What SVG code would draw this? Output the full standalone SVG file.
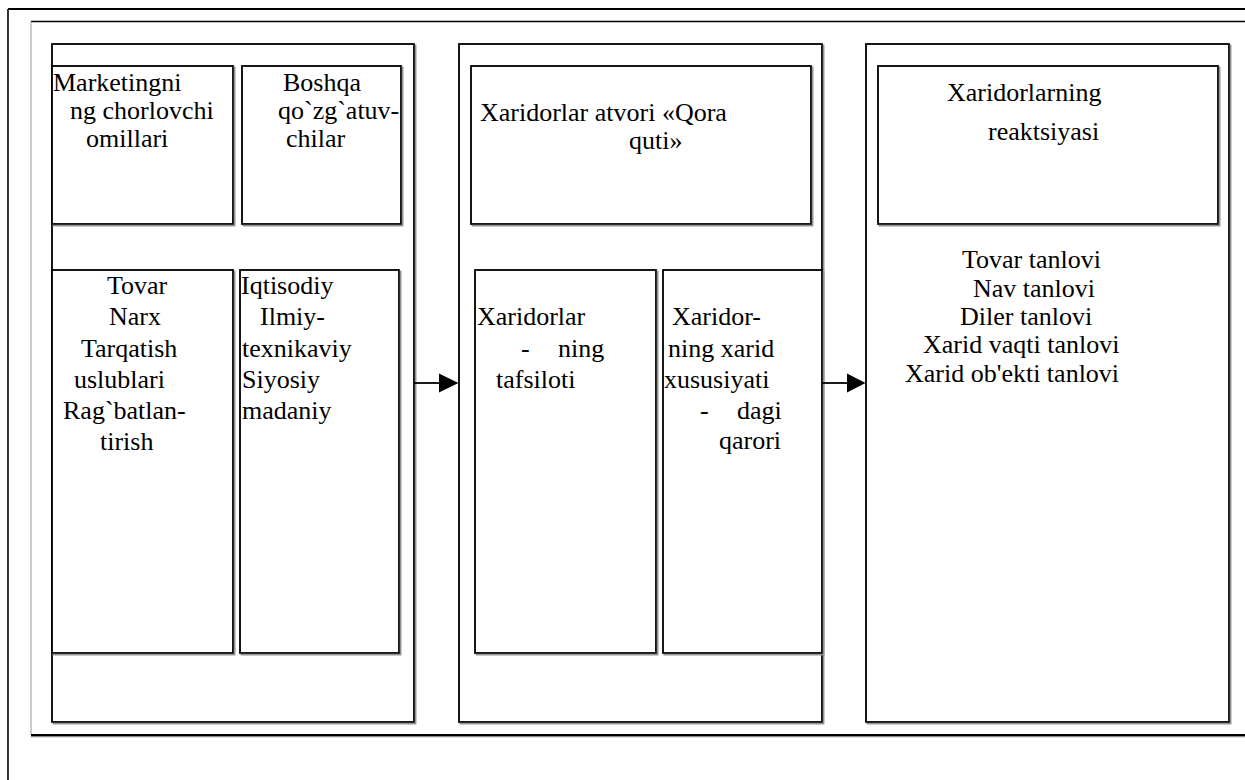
<svg xmlns="http://www.w3.org/2000/svg" width="1245" height="780" viewBox="0 0 1245 780">
  <defs>
    <filter id="shade" x="-5%" y="-5%" width="110%" height="110%">
      <feDropShadow dx="1.5" dy="1.5" stdDeviation="0" flood-color="#8c8c8c" flood-opacity="1"/>
    </filter>
  </defs>
  <style>
    .box { fill: #fff; stroke: #000; stroke-width: 1.8; filter: url(#shade); }
    .t { font-family: "Liberation Serif", "Times New Roman", serif; font-size: 26px; fill: #000; }
    .wire { stroke: #000; stroke-width: 1.8; fill: none; }
    .head { fill: #000; }
  </style>
  <rect width="1245" height="780" fill="#fff"/>

  <!-- page frame -->
  <g id="frame">
    <line x1="8" y1="9" x2="1245" y2="9" stroke="#000" stroke-width="2"/>
    <line x1="8" y1="9" x2="8" y2="780" stroke="#000" stroke-width="1.6"/>
    <line x1="31" y1="21.5" x2="1245" y2="21.5" stroke="#000" stroke-width="1.3"/>
    <line x1="31" y1="21.5" x2="31" y2="735" stroke="#999" stroke-width="1"/>
    <line x1="31" y1="736.5" x2="1245" y2="736.5" stroke="#888" stroke-width="1.5"/>
    <line x1="31" y1="735" x2="1245" y2="735" stroke="#000" stroke-width="2"/>
  </g>

  <!-- column 1: stimuli -->
  <g id="panel-stimuli">
    <rect class="box" x="52" y="44" width="362" height="678"/>
  </g>
  <g id="marketing-factors">
    <rect class="box" x="52" y="66" width="181" height="158"/>
    <text class="t" x="53" y="91">Marketingni</text>
    <text class="t" x="70" y="119">ng chorlovchi</text>
    <text class="t" x="86" y="147">omillari</text>
  </g>
  <g id="other-stimuli">
    <rect class="box" x="242" y="66" width="159" height="158"/>
    <text class="t" x="283" y="91">Boshqa</text>
    <text class="t" x="278" y="119">qo`zg`atuv-</text>
    <text class="t" x="286" y="147">chilar</text>
  </g>
  <g id="marketing-list">
    <rect class="box" x="52" y="270" width="181" height="383"/>
    <text class="t" x="107" y="294">Tovar</text>
    <text class="t" x="109" y="325">Narx</text>
    <text class="t" x="81" y="357">Tarqatish</text>
    <text class="t" x="74" y="388">uslublari</text>
    <text class="t" x="63" y="419">Rag`batlan-</text>
    <text class="t" x="100" y="450">tirish</text>
  </g>
  <g id="other-list">
    <rect class="box" x="240" y="270" width="159" height="383"/>
    <text class="t" x="241" y="294">Iqtisodiy</text>
    <text class="t" x="260" y="325">Ilmiy-</text>
    <text class="t" x="242" y="357">texnikaviy</text>
    <text class="t" x="242" y="388">Siyosiy</text>
    <text class="t" x="242" y="419">madaniy</text>
  </g>

  <!-- column 2: black box -->
  <g id="panel-blackbox">
    <rect class="box" x="459" y="44" width="363" height="678"/>
  </g>
  <g id="blackbox-title">
    <rect class="box" x="471" y="66" width="340" height="158"/>
    <text class="t" x="480" y="121">Xaridorlar atvori «Qora</text>
    <text class="t" x="629" y="149">quti»</text>
  </g>
  <g id="buyer-details">
    <rect class="box" x="475" y="270" width="181" height="383"/>
    <text class="t" x="477" y="325">Xaridorlar</text>
    <text class="t" x="521" y="357">-</text>
    <text class="t" x="558" y="357">ning</text>
    <text class="t" x="496" y="388">tafsiloti</text>
  </g>
  <g id="buyer-decision">
    <rect class="box" x="663" y="270" width="159" height="383"/>
    <text class="t" x="672" y="325">Xaridor-</text>
    <text class="t" x="668" y="357">ning xarid</text>
    <text class="t" x="664" y="388">xususiyati</text>
    <text class="t" x="700" y="419">-</text>
    <text class="t" x="737" y="419">dagi</text>
    <text class="t" x="719" y="449">qarori</text>
  </g>

  <!-- column 3: responses -->
  <g id="panel-response">
    <rect class="box" x="866" y="44" width="363" height="678"/>
    <text class="t" x="962" y="268">Tovar tanlovi</text>
    <text class="t" x="973" y="297">Nav tanlovi</text>
    <text class="t" x="960" y="325">Diler tanlovi</text>
    <text class="t" x="923" y="353">Xarid vaqti tanlovi</text>
    <text class="t" x="905" y="382">Xarid ob'ekti tanlovi</text>
  </g>
  <g id="response-title">
    <rect class="box" x="878" y="66" width="340" height="158"/>
    <text class="t" x="947" y="101">Xaridorlarning</text>
    <text class="t" x="988" y="140">reaktsiyasi</text>
  </g>

  <!-- connectors -->
  <g id="connectors">
    <line class="wire" x1="414" y1="383" x2="442" y2="383"/>
    <polygon class="head" points="439,373.5 458.5,383 439,392.5"/>
    <line class="wire" x1="822" y1="383" x2="849" y2="383"/>
    <polygon class="head" points="847,373.5 865.5,383 847,392.5"/>
  </g>
</svg>
